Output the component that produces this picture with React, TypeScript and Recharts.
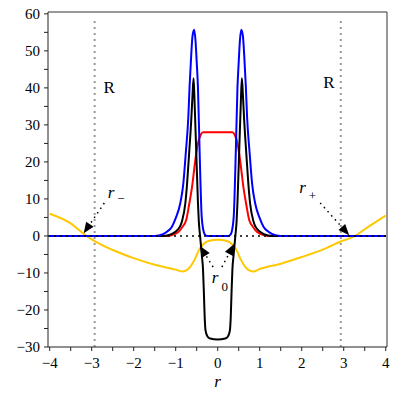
import { LineChart, Line, XAxis, YAxis, ReferenceLine, ReferenceDot } from 'recharts';

// r positions and curve values
const blueR = [-4, -1.5, -1.3, -1.2, -1.09, -1.0, -0.89, -0.82, -0.76, -0.7, -0.67, -0.63, -0.6, -0.56, -0.53, -0.5, -0.47, -0.43, -0.38, -0.33, -0.3, -0.25, 0, 0.25, 0.3, 0.33, 0.38, 0.43, 0.47, 0.5, 0.53, 0.56, 0.6, 0.63, 0.67, 0.7, 0.76, 0.82, 0.89, 1.0, 1.09, 1.2, 1.3, 1.5, 4];
const blueV = [0, 0, 0.5, 1.2, 2.5, 4.8, 8.9, 14, 22.4, 32, 40.3, 49, 54, 55.7, 53, 47, 40, 22.4, 5, 1, 0.3, 0, 0, 0, 0.3, 1, 5, 22.4, 40, 47, 53, 55.7, 54, 49, 40.3, 32, 22.4, 14, 8.9, 4.8, 2.5, 1.2, 0.5, 0, 0];

const blackR = [-4, -1.3, -1.1, -1.0, -0.9, -0.85, -0.77, -0.73, -0.68, -0.63, -0.6, -0.575, -0.55, -0.51, -0.47, -0.45, -0.42, -0.38, -0.35, -0.33, -0.31, -0.29, -0.25, -0.18, 0, 0.18, 0.25, 0.29, 0.31, 0.33, 0.35, 0.38, 0.42, 0.45, 0.47, 0.51, 0.55, 0.575, 0.6, 0.63, 0.68, 0.73, 0.77, 0.85, 0.9, 1.0, 1.1, 1.3, 4];
const blackV = [0, 0, 0.5, 1.2, 2.5, 4, 8.9, 14, 22.4, 31.3, 38, 42.6, 36, 22.4, 8.9, 4, 0, -5, -9, -15, -22, -25.5, -27, -27.7, -28, -27.7, -27, -25.5, -22, -15, -9, -5, 0, 4, 8.9, 22.4, 36, 42.6, 38, 31.3, 22.4, 14, 8.9, 4, 2.5, 1.2, 0.5, 0, 0];

const redR = [-4, -1.2, -1.0, -0.9, -0.85, -0.75, -0.68, -0.61, -0.56, -0.51, -0.46, -0.41, -0.35, 0, 0.35, 0.41, 0.46, 0.51, 0.56, 0.61, 0.68, 0.75, 0.85, 0.9, 1.0, 1.2, 4];
const redV = [0, 0, 0.6, 1.5, 2.3, 4.3, 8.5, 13.3, 18, 22.4, 25.5, 27.2, 28, 28, 28, 27.2, 25.5, 22.4, 18, 13.3, 8.5, 4.3, 2.3, 1.5, 0.6, 0, 0];

const yellowR = [-4, -3.5, -3.15, -2.93, -2.5, -2.0, -1.5, -1.0, -0.85, -0.75, -0.65, -0.55, -0.45, -0.35, -0.2, 0, 0.2, 0.35, 0.45, 0.55, 0.65, 0.75, 0.85, 1.0, 1.5, 2.0, 2.5, 2.93, 3.27, 3.5, 4];
const yellowV = [6.0, 3.4, 0.2, -1.4, -3.8, -6.0, -7.8, -9.1, -9.6, -9.3, -8.3, -6.4, -3.9, -2.3, -1.3, -1.0, -1.3, -2.3, -3.9, -6.4, -8.3, -9.3, -9.6, -8.9, -7.5, -5.7, -3.7, -1.5, 0, 1.8, 5.5];

const xTicks = [-4, -3.5, -3, -2.5, -2, -1.5, -1, -0.5, 0, 0.5, 1, 1.5, 2, 2.5, 3, 3.5, 4];
const yTicks = [-30, -25, -20, -15, -10, -5, 0, 5, 10, 15, 20, 25, 30, 35, 40, 45, 50, 55, 60];

const zip = (rs: number[], vs: number[]) => rs.map((r, i) => ({ r, v: vs[i] }));

const serif = 'Liberation Serif, Times New Roman, serif';
const serifStyle = { fontFamily: serif };

const fmt = (n: number) => (n < 0 ? '\u2212' + Math.abs(n) : String(n));

function XTick(p: any) {
  const n = p.payload.value;
  if (!Number.isInteger(n)) return <g />;
  return (
    <text x={p.x} y={p.y} dy="0.66em" textAnchor="middle" fontFamily={serif} style={serifStyle} fontSize={15} fill="#000">
      {fmt(n)}
    </text>
  );
}

function YTick(p: any) {
  const n = p.payload.value;
  if (n % 10 !== 0) return <g />;
  return (
    <text x={p.x} y={p.y} dy="0.33em" textAnchor="end" fontFamily={serif} style={serifStyle} fontSize={15} fill="#000">
      {fmt(n)}
    </text>
  );
}

function AxisLabel(p: any) {
  const vb = p.viewBox;
  return (
    <text x={vb.x + vb.width / 2} y={vb.y + vb.height + 10} textAnchor="middle" fontFamily={serif} style={serifStyle} fontStyle="italic" fontSize={17} fill="#000">
      r
    </text>
  );
}

function Arrow(props: any) {
  const { x1, y1, x2, y2 } = props;
  const len = Math.hypot(x2 - x1, y2 - y1);
  const dx = (x2 - x1) / len;
  const dy = (y2 - y1) / len;
  const bx = x2 - dx * 11;
  const by = y2 - dy * 11;
  const nx = -dy * 4.5;
  const ny = dx * 4.5;
  return (
    <g>
      <line x1={x1} y1={y1} x2={bx} y2={by} stroke="#000" strokeWidth={1.5} strokeDasharray="1.5 4" />
      <polygon points={`${x2},${y2} ${bx + nx},${by + ny} ${bx - nx},${by - ny}`} fill="#000" />
    </g>
  );
}

const Txt = (label: string, sub?: string, subDy = 6, italic = true) =>
  function Shape(p: any) {
    return (
      <text x={p.cx} y={p.cy} fontFamily={serif} style={serifStyle} fontSize={17} fill="#000">
        <tspan fontStyle={italic ? 'italic' : 'normal'}>{label}</tspan>
        {sub ? (
          <tspan dx={3} dy={subDy} fontSize={13}>
            {sub}
          </tspan>
        ) : null}
      </text>
    );
  };

export default function App() {
  return (
    <div style={{ position: 'absolute', left: 0, top: 0, background: '#fff', fontFamily: serif }}>
      <LineChart width={395} height={395} margin={{ top: 12, right: 8, bottom: 18, left: 8 }} style={serifStyle}>
        <XAxis
          type="number"
          dataKey="r"
          domain={[-4.04, 4.03]}
          ticks={xTicks}
          interval={0}
          allowDataOverflow
          tickSize={4}
          tickMargin={7}
          height={30}
          stroke="#222"
          tick={XTick}
          label={AxisLabel}
        />
        <YAxis
          type="number"
          domain={[-30, 60.5]}
          ticks={yTicks}
          interval={0}
          allowDataOverflow
          width={40}
          tickSize={4}
          tickMargin={4}
          stroke="#222"
          tick={YTick}
        />
        <ReferenceLine y={60.5} stroke="#333" strokeWidth={1} />
        <ReferenceLine x={4.03} stroke="#333" strokeWidth={1} />
        <ReferenceLine segment={[{ x: -2.93, y: -30 }, { x: -2.93, y: 58.5 }]} stroke="#999" strokeWidth={2} strokeDasharray="2 4" />
        <ReferenceLine segment={[{ x: 2.93, y: -30 }, { x: 2.93, y: 58.5 }]} stroke="#999" strokeWidth={2} strokeDasharray="2 4" />
        <Line data={zip(yellowR, yellowV)} dataKey="v" type="monotone" stroke="#ffc800" strokeWidth={2} dot={false} isAnimationActive={false} />
        <Line data={zip(redR, redV)} dataKey="v" type="monotone" stroke="#ff0000" strokeWidth={2} dot={false} isAnimationActive={false} />
        <Line data={zip(blackR, blackV)} dataKey="v" type="monotone" stroke="#000" strokeWidth={2} dot={false} isAnimationActive={false} />
        <Line data={zip(blueR, blueV)} dataKey="v" type="monotone" stroke="#0000ff" strokeWidth={2} dot={false} isAnimationActive={false} />
        <ReferenceLine y={0} stroke="#000" strokeWidth={1.5} strokeDasharray="2 4" />
        <ReferenceLine segment={[{ x: -2.7, y: 8.9 }, { x: -3.19, y: 0.7 }]} shape={Arrow} />
        <ReferenceLine segment={[{ x: 2.44, y: 8.9 }, { x: 3.13, y: 0.2 }]} shape={Arrow} />
        <ReferenceLine segment={[{ x: -0.11, y: -8.4 }, { x: -0.42, y: -2.7 }]} shape={Arrow} />
        <ReferenceLine segment={[{ x: 0.1, y: -8.4 }, { x: 0.39, y: -2.2 }]} shape={Arrow} />
        <ReferenceDot x={-2.72} y={38.6} shape={Txt('R', undefined, 0, false)} />
        <ReferenceDot x={2.51} y={40} shape={Txt('R', undefined, 0, false)} />
        <ReferenceDot x={-2.62} y={10.2} shape={Txt('r', '\u2212', 5)} />
        <ReferenceDot x={1.94} y={11.6} shape={Txt('r', '+', 7)} />
        <ReferenceDot x={-0.14} y={-12.8} shape={Txt('r', '0', 8)} />
      </LineChart>
    </div>
  );
}
